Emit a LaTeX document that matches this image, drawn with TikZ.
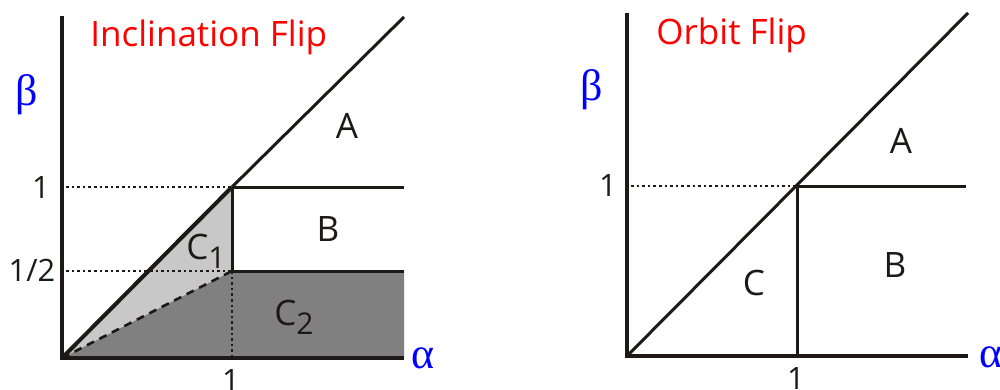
\documentclass[tikz,border=0pt]{standalone}
\usepackage{fontspec}
\setmainfont{Open Sans}
\newfontfamily\grk{Liberation Serif}
\definecolor{lightfill}{RGB}{200,200,200}
\definecolor{darkfill}{RGB}{128,128,128}
\definecolor{ink}{RGB}{30,25,25}
\begin{document}
\begin{tikzpicture}[x=0.5pt,y=-0.5pt,
  axis/.style={line width=1.8pt, ink},
  bnd/.style={line width=1.5pt, ink},
  thickbnd/.style={line width=2pt, ink},
  dotl/.style={line width=1.3pt, ink, dash pattern=on 1.3pt off 1.5pt},
  dashl/.style={line width=1.3pt, ink, dash pattern=on 4pt off 3pt},
  title/.style={text=red, font=\fontsize{17.5}{20}\selectfont, inner sep=0pt},
  reg/.style={text=ink, font=\fontsize{17.5}{20}\selectfont, inner sep=0pt},
  tick/.style={text=ink, font=\fontsize{15.4}{18}\selectfont, inner sep=0pt},
  greek/.style={text=blue, font=\grk\fontsize{22}{24}\selectfont, inner sep=0pt}]
\useasboundingbox (0,0) rectangle (1000,390);

% ---------- left panel ----------
\coordinate (O1) at (62,358);
\coordinate (P1) at (232,187);
\coordinate (H1) at (232,271);
\coordinate (F1) at (232,358);
\coordinate (Y1) at (62,16);
\coordinate (X1) at (404,358);
\coordinate (D1) at (404,17);
\coordinate (E1) at (404,187);
\coordinate (G1) at (404,271);
\coordinate (L1) at (66,187);
\coordinate (M1) at (66,271);

\fill[lightfill] (O1) -- (P1) -- (H1) -- cycle;
\fill[darkfill] (O1) -- (H1) -- (G1) -- (X1) -- cycle;
\draw[dotl] (L1) -- (P1);
\draw[dotl] (M1) -- (H1);
\draw[dotl] (H1) -- (F1);
\draw[dashl] (O1) -- (H1);
\draw[bnd] (P1) -- (H1);
\draw[bnd] (P1) -- (E1);
\draw[bnd] (H1) -- (G1);
\draw[bnd] (P1) -- (D1);
\draw[thickbnd] (O1) -- (P1);
\draw[axis] (Y1) -- (O1) -- (X1);

\node[title, anchor=base west] (t1) at (90,47) {Inclination Flip};
\node[reg, anchor=base] (a1) at (347,138) {A};
\node[reg, anchor=base] (b1) at (328,241) {B};
\node[reg, anchor=base] (c1) at (206,259) {C\raisebox{-4.5pt}{\fontsize{15}{16}\selectfont 1}};
\node[reg, anchor=base] (c2) at (294,325) {C\raisebox{-4.5pt}{\fontsize{15}{16}\selectfont 2}};
\node[tick] (k1) at (41,188) {1};
\node[tick] (k2) at (32,270) {1/2};
\node[tick, anchor=north] (k3) at (231,369) {1};
\node[greek] (beta1) at (27,95) {β};
\node[greek] (alpha1) at (423,358) {α};

% ---------- right panel ----------
\coordinate (O2) at (627,356);
\coordinate (P2) at (797,186);
\coordinate (F2) at (797,356);
\coordinate (Y2) at (627,13);
\coordinate (X2) at (968,356);
\coordinate (D2) at (968,13);
\coordinate (E2) at (966,186);
\coordinate (L2) at (631,186);

\draw[dotl] (L2) -- (P2);
\draw[bnd] (P2) -- (F2);
\draw[bnd] (P2) -- (E2);
\draw[bnd] (O2) -- (D2);
\draw[axis] (Y2) -- (O2) -- (X2);

\node[title, anchor=base west] (t2) at (656,45) {Orbit Flip};
\node[reg, anchor=base] (a2) at (901,153) {A};
\node[reg, anchor=base] (b2) at (895,277) {B};
\node[reg, anchor=base] (c3) at (754,295) {C};
\node[tick] (k4) at (608,186) {1};
\node[tick, anchor=north] (k5) at (796,367) {1};
\node[greek] (beta2) at (592,90) {β};
\node[greek] (alpha2) at (991,357) {α};
\end{tikzpicture}
\end{document}
